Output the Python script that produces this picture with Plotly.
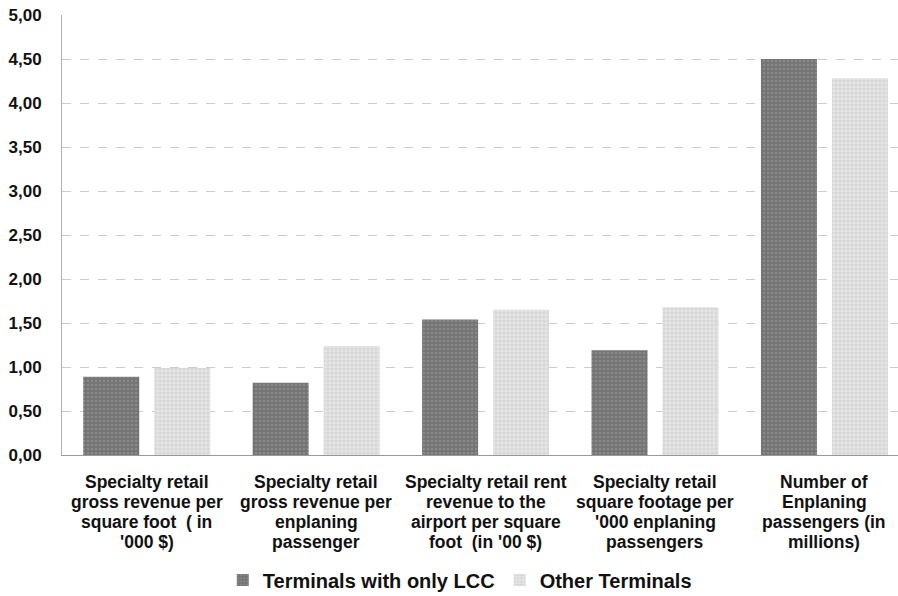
import plotly.graph_objects as go

categories = [
    "Specialty retail<br>gross revenue per<br>square foot  ( in<br>'000 $)",
    "Specialty retail<br>gross revenue per<br>enplaning<br>passenger",
    "Specialty retail rent<br>revenue to the<br>airport per square<br>foot  (in '00 $)",
    "Specialty retail<br>square footage per<br>'000 enplaning<br>passengers",
    "Number of<br>Enplaning<br>passengers (in<br>millions)",
]
lcc_only = [0.89, 0.82, 1.54, 1.19, 4.50]
other_terminals = [0.99, 1.24, 1.65, 1.68, 4.28]
y_ticks = [0, 0.5, 1, 1.5, 2, 2.5, 3, 3.5, 4, 4.5, 5]
y_tick_text = [f"{v:.2f}".replace(".", ",") for v in y_ticks]

font_family = "Liberation Sans, Arial, sans-serif"

fig = go.Figure()
fig.add_trace(go.Bar(
    x=categories, y=lcc_only, name="Terminals with only LCC",
    marker=dict(color="#747474", line=dict(width=0),
                pattern=dict(shape=".", fgcolor="#a0a0a0", size=4, solidity=0.3)),
))
fig.add_trace(go.Bar(
    x=categories, y=other_terminals, name="Other Terminals",
    marker=dict(color="#e6e6e6", line=dict(width=0),
                pattern=dict(shape="+", fgcolor="#b2b2b2", size=4, solidity=0.3)),
))

# Category labels: one annotation per line for tight line spacing
line_step = 20
for cat in categories:
    for i, line in enumerate(cat.split("<br>")):
        fig.add_annotation(
            x=cat, xref="x", y=0, yref="paper", yanchor="middle",
            yshift=-(27 + i * line_step), text=line, showarrow=False,
            font=dict(size=17.5, family=font_family, weight="bold", color="#111111"),
        )

fig.update_layout(
    width=898, height=596,
    margin=dict(l=62, r=0, t=15, b=141, autoexpand=False),
    paper_bgcolor="white", plot_bgcolor="white",
    barmode="group", bargap=0.162, bargroupgap=0.211,
    font=dict(family=font_family, color="#111111"),
    legend=dict(orientation="h", xref="container", x=0.512, xanchor="center",
                yref="container", y=0.027, yanchor="middle",
                font=dict(size=20, family=font_family, weight="bold"),
                itemwidth=30, traceorder="normal"),
    showlegend=True,
)
fig.update_yaxes(
    range=[0, 5], tickvals=y_ticks, ticktext=y_tick_text,
    tickfont=dict(size=17, family=font_family, weight="bold"),
    showgrid=True, gridcolor="#cccccc", griddash="dash", gridwidth=1,
    showline=True, linecolor="#b0b0b0", linewidth=1,
    ticks="", zeroline=False, ticklabelstandoff=16,
)
fig.update_xaxes(
    range=[-0.5, 4.434], showticklabels=False,
    showline=True, linecolor="#999999", linewidth=1,
    ticks="",
)

fig.write_html("out.html")
